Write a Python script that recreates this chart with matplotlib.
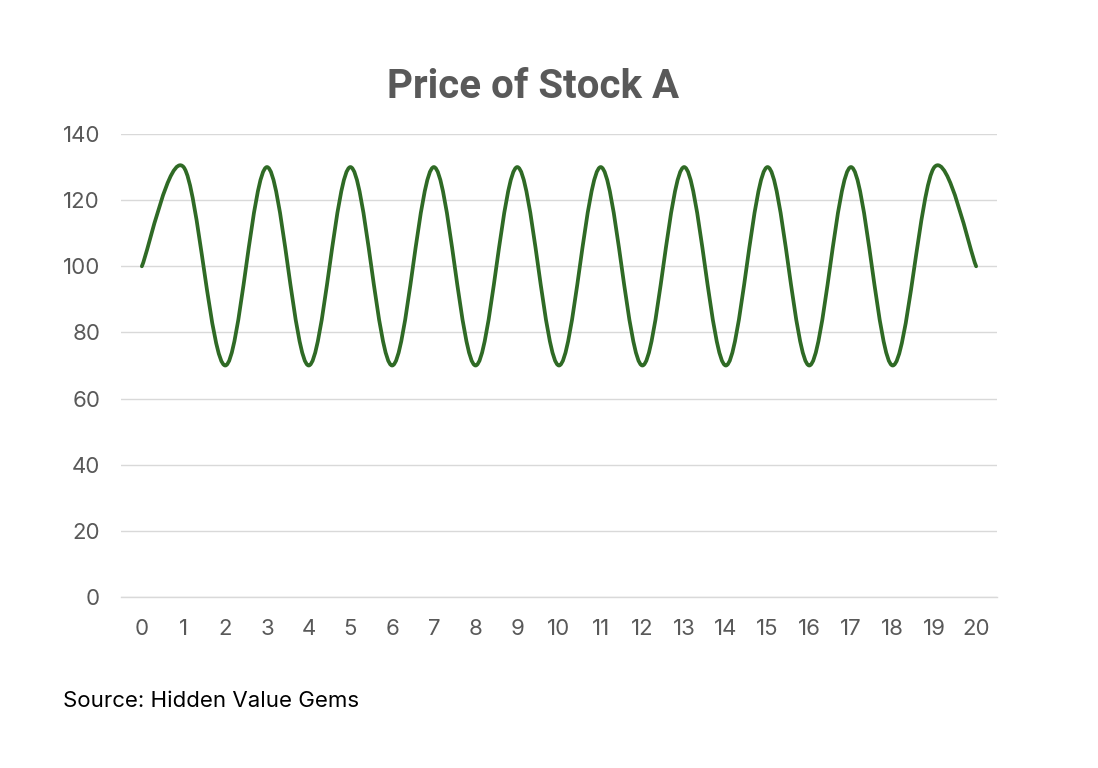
import numpy as np
import matplotlib
matplotlib.use("Agg")
import matplotlib.pyplot as plt
from matplotlib.path import Path
from matplotlib.patches import PathPatch

# Data
x_values = list(range(0, 21))
prices = [100, 130, 70, 130, 70, 130, 70, 130, 70, 130, 70,
          130, 70, 130, 70, 130, 70, 130, 70, 130, 100]
y_ticks = [0, 20, 40, 60, 80, 100, 120, 140]
title_text = "Price of Stock A"
source_text = "Source: Hidden Value Gems"

fig = plt.figure(figsize=(10.98, 7.68), dpi=100)
ax = fig.add_axes([121 / 1098, 1 - 597 / 768, (997 - 121) / 1098, (597 - 134) / 768])

# Excel-style smoothed line via cubic Bezier segments in data coordinates
xs = np.array(x_values, dtype=float)
ys = np.array(prices, dtype=float)
n = len(xs)
verts = [(xs[0], ys[0])]
codes = [Path.MOVETO]
for i in range(n - 1):
    p0 = np.array([xs[max(i - 1, 0)], ys[max(i - 1, 0)]])
    p1 = np.array([xs[i], ys[i]])
    p2 = np.array([xs[i + 1], ys[i + 1]])
    p3 = np.array([xs[min(i + 2, n - 1)], ys[min(i + 2, n - 1)]])
    c1 = p1 + (p2 - p0) / 6.0
    c2 = p2 - (p3 - p1) / 6.0
    verts += [tuple(c1), tuple(c2), tuple(p2)]
    codes += [Path.CURVE4] * 3
patch = PathPatch(Path(verts, codes), facecolor="none", edgecolor="#2F6A25",
                  lw=2.7, capstyle="round", joinstyle="round", zorder=3)
ax.add_patch(patch)

ax.set_xlim(-0.5, 20.5)
ax.set_ylim(0, 140)
ax.set_xticks(x_values)
ax.set_xticklabels([str(v) for v in x_values])
ax.set_yticks(y_ticks)
ax.set_yticklabels([str(v) for v in y_ticks])
ax.grid(axis="y", color="#D9D9D9", lw=1.0)
ax.set_axisbelow(True)
for s in ["top", "right", "left"]:
    ax.spines[s].set_visible(False)
ax.spines["bottom"].set_color("#D9D9D9")
ax.spines["bottom"].set_linewidth(1.0)
ax.tick_params(axis="both", length=0, labelsize=16, labelcolor="#595959")
ax.tick_params(axis="x", pad=16)
ax.tick_params(axis="y", pad=15)
for lab in ax.get_xticklabels() + ax.get_yticklabels():
    lab.set_fontfamily("Inter")

fig.text(533 / 1098, 1 - 87 / 768, title_text, ha="center", va="center",
         fontsize=29, fontweight="bold", color="#595959", family="Roboto")
fig.text(63 / 1098, 1 - 701 / 768, source_text, ha="left", va="center",
         fontsize=16, color="#000000", family="Inter")

fig.savefig("out.png", dpi=100, facecolor="white")
